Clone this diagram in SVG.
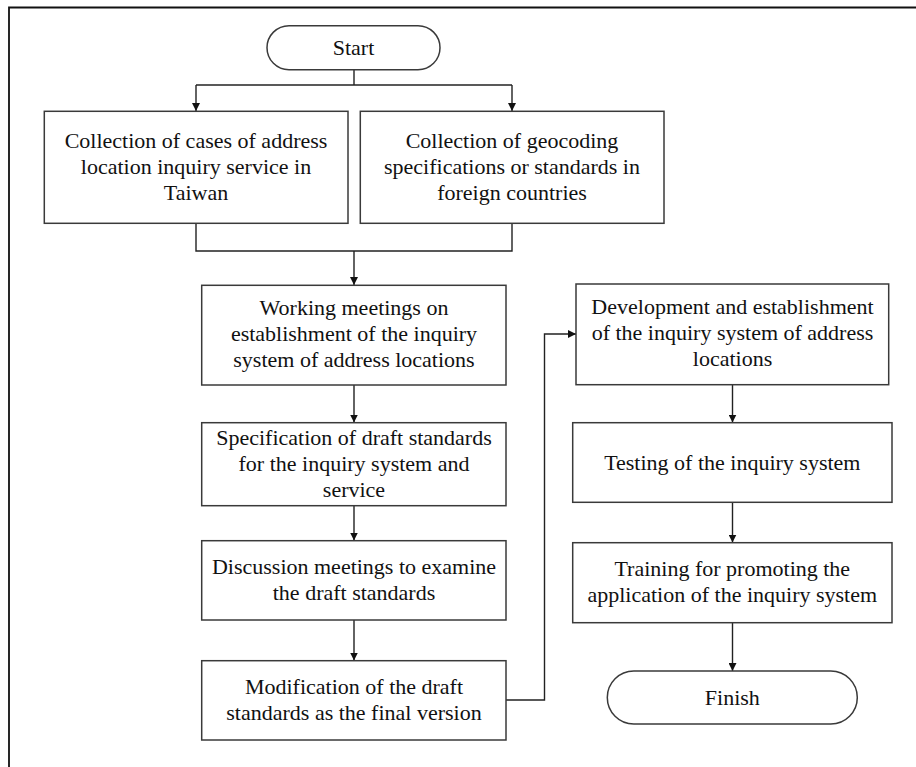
<svg xmlns="http://www.w3.org/2000/svg" width="916" height="767" viewBox="0 0 916 767">
<style>
  .box { fill: #fff; stroke: #3a3a3a; stroke-width: 1.5; }
  .t { font-family: "Liberation Serif", "Times New Roman", serif; font-size: 22px; fill: #111; text-anchor: middle; }
  .c { fill: none; stroke: #222; stroke-width: 1.4; }
</style>
<defs>
  <marker id="arr" viewBox="0 0 10 10" refX="10" refY="5" markerWidth="8" markerHeight="8" markerUnits="userSpaceOnUse" orient="auto">
    <path d="M0,0 L10,5 L0,10 Z" fill="#111"/>
  </marker>
</defs>
<rect x="0" y="0" width="916" height="767" fill="#fff"/>
<path d="M9,767 V7.5 H916" fill="none" stroke="#111" stroke-width="1.8"/>

<g id="connectors">
  <path class="c" d="M354,70 V85"/>
  <path class="c" d="M196,85 H512"/>
  <path class="c" d="M196,85 V111" marker-end="url(#arr)"/>
  <path class="c" d="M512,85 V111" marker-end="url(#arr)"/>
  <path class="c" d="M196,223 V251 H512 V223"/>
  <path class="c" d="M354,251 V285" marker-end="url(#arr)"/>
  <path class="c" d="M354,385 V422.5" marker-end="url(#arr)"/>
  <path class="c" d="M354,505.5 V540.5" marker-end="url(#arr)"/>
  <path class="c" d="M354,620 V660.5" marker-end="url(#arr)"/>
  <path class="c" d="M506,700 H544.5 V334 H576" marker-end="url(#arr)"/>
  <path class="c" d="M732.5,385 V422.5" marker-end="url(#arr)"/>
  <path class="c" d="M732.5,502.5 V542.5" marker-end="url(#arr)"/>
  <path class="c" d="M732.5,622.5 V671" marker-end="url(#arr)"/>
</g>

<g id="start">
  <rect class="box" x="267" y="25.7" width="173" height="44" rx="22" ry="22"/>
  <text class="t" x="353.5" y="54.5">Start</text>
</g>

<g id="n1">
  <rect class="box" x="44.3" y="111.3" width="303.7" height="112"/>
  <text class="t" x="196" y="148">Collection of cases of address</text>
  <text class="t" x="196" y="174">location inquiry service in</text>
  <text class="t" x="196" y="200">Taiwan</text>
</g>

<g id="n2">
  <rect class="box" x="360.3" y="111.3" width="303.7" height="112"/>
  <text class="t" x="512" y="148">Collection of geocoding</text>
  <text class="t" x="512" y="174">specifications or standards in</text>
  <text class="t" x="512" y="200">foreign countries</text>
</g>

<g id="n3">
  <rect class="box" x="201.7" y="285.3" width="304.3" height="99.7"/>
  <text class="t" x="354" y="315">Working meetings on</text>
  <text class="t" x="354" y="341">establishment of the inquiry</text>
  <text class="t" x="354" y="367">system of address locations</text>
</g>

<g id="n4">
  <rect class="box" x="201.7" y="422.7" width="304.3" height="83"/>
  <text class="t" x="354" y="445">Specification of draft standards</text>
  <text class="t" x="354" y="471">for the inquiry system and</text>
  <text class="t" x="354" y="497">service</text>
</g>

<g id="n5">
  <rect class="box" x="201.7" y="540.7" width="304.3" height="79.3"/>
  <text class="t" x="354" y="574">Discussion meetings to examine</text>
  <text class="t" x="354" y="600">the draft standards</text>
</g>

<g id="n6">
  <rect class="box" x="201.7" y="660.7" width="304.3" height="79.3"/>
  <text class="t" x="354" y="694">Modification of the draft</text>
  <text class="t" x="354" y="720">standards as the final version</text>
</g>

<g id="n7">
  <rect class="box" x="576" y="284" width="312.7" height="100.7"/>
  <text class="t" x="732.5" y="314">Development and establishment</text>
  <text class="t" x="732.5" y="340">of the inquiry system of address</text>
  <text class="t" x="732.5" y="366">locations</text>
</g>

<g id="n8">
  <rect class="box" x="572.7" y="422.7" width="319.3" height="79.6"/>
  <text class="t" x="732.3" y="469.5">Testing of the inquiry system</text>
</g>

<g id="n9">
  <rect class="box" x="572.7" y="542.7" width="319.3" height="80"/>
  <text class="t" x="732.3" y="576">Training for promoting the</text>
  <text class="t" x="732.3" y="602">application of the inquiry system</text>
</g>

<g id="finish">
  <rect class="box" x="607.3" y="671" width="250" height="53" rx="26.5" ry="26.5"/>
  <text class="t" x="732.3" y="705">Finish</text>
</g>
</svg>
